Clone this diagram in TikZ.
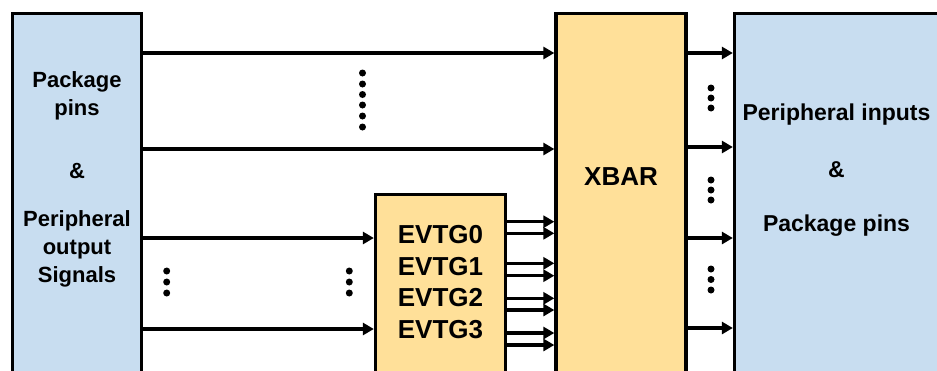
\documentclass[tikz,border=0pt]{standalone}
\usepackage{fontspec}
\setmainfont{Liberation Sans}
\usetikzlibrary{arrows.meta}
\definecolor{pinblue}{RGB}{200,221,240}
\definecolor{xbaryel}{RGB}{255,224,153}
\begin{document}
\begin{tikzpicture}[x=1pt,y=-1pt,
  blk/.style={draw=black, line width=3.3pt, inner sep=0pt},
  arr/.style={line width=3.5pt, -{Triangle[length=11pt,width=12pt]}},
  lbl/.style={anchor=base, inner sep=0pt, outer sep=0pt},
  lf/.style={font=\fontsize{22}{26}\selectfont\bfseries},
  rf/.style={font=\fontsize{23}{27}\selectfont\bfseries},
  bf/.style={font=\fontsize{26}{30}\selectfont\bfseries}]
\useasboundingbox (0,0) rectangle (937,370);
\clip (0,0) rectangle (937,370);
\fill[white] (0,0) rectangle (937,370);
% boxes
\node[blk, fill=pinblue, minimum width=129pt, minimum height=376pt] (L) at (77,201.5) {};
\node[blk, fill=pinblue, minimum width=216pt, minimum height=376pt] (R) at (842.5,201.5) {};
\node[blk, fill=xbaryel, minimum width=130pt, minimum height=376pt] (X) at (621,201.5) {};
\node[blk, fill=xbaryel, minimum width=130pt, minimum height=196pt] (E) at (440.5,292.5) {};
% left texts
\node[lbl, lf] (l1) at (77,87) {Package};
\node[lbl, lf] (l2) at (77,115) {pins};
\node[lbl, lf] (l3) at (77,178) {\&};
\node[lbl, lf] (l4) at (77,226) {Peripheral};
\node[lbl, lf] (l5) at (77,254) {output};
\node[lbl, lf] (l6) at (77,282) {Signals};
% right texts
\node[lbl, rf] (r1) at (836.5,120) {Peripheral inputs};
\node[lbl, rf] (r2) at (836.5,177) {\&};
\node[lbl, rf] (r3) at (836.5,231) {Package pins};
% XBAR and EVTG
\node[lbl, bf] (xt) at (621,185) {XBAR};
\node[lbl, bf] (e0) at (440.5,243.3) {EVTG0};
\node[lbl, bf] (e1) at (440.5,275) {EVTG1};
\node[lbl, bf] (e2) at (440.5,306.7) {EVTG2};
\node[lbl, bf] (e3) at (440.5,338.3) {EVTG3};
% arrows left -> XBAR
\draw[arr] (L.east |- 0,53) -- (X.west |- 0,53);
\draw[arr] (L.east |- 0,149) -- (X.west |- 0,149);
% arrows left -> EVTG
\draw[arr] (L.east |- 0,238) -- (E.west |- 0,238);
\draw[arr] (L.east |- 0,329) -- (E.west |- 0,329);
% arrows EVTG -> XBAR
\foreach \yy in {221.7,233.3,263.3,275.7,298.3,310,333,345}
  \draw[arr] (E.east |- 0,\yy) -- (X.west |- 0,\yy);
% arrows XBAR -> right
\foreach \yy in {53,147,238,328}
  \draw[arr] (X.east |- 0,\yy) -- (R.west |- 0,\yy);
% dots
\foreach \yy in {73,84,94.5,105,116,127}
  \fill (362.5,\yy) circle (3.5pt);
\foreach \yy in {271,282,293}
  {\fill (166.7,\yy) circle (3.5pt);
   \fill (349.3,\yy) circle (3.5pt);}
\foreach \yy in {88,98,108,180,190,200,269,279.5,290}
  \fill (711,\yy) circle (3.5pt);
\end{tikzpicture}
\end{document}
